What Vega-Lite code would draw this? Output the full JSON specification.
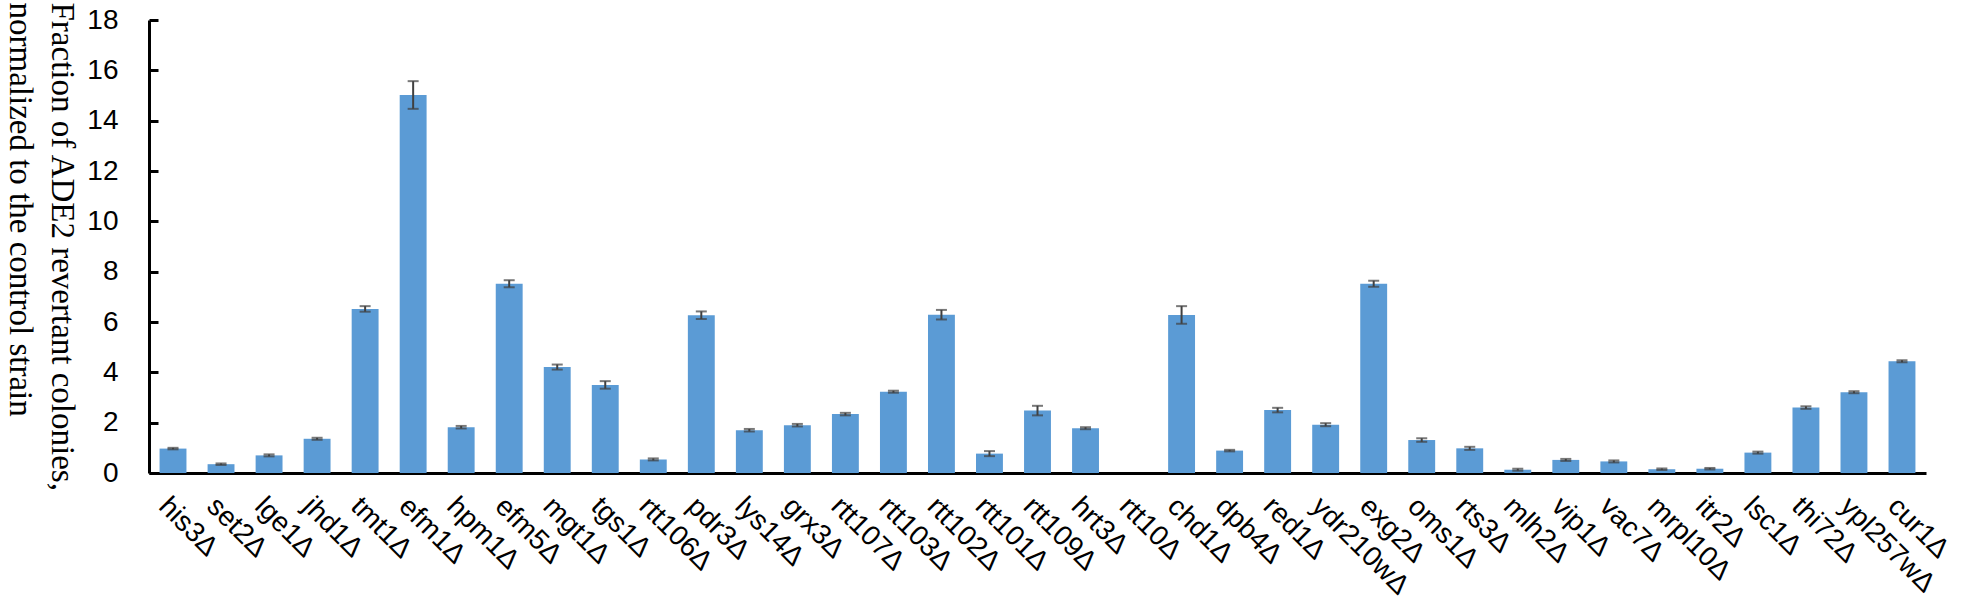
{
  "$schema": "https://vega.github.io/schema/vega-lite/v6.json",
  "autosize": {"type": "none"},
  "padding": {"left": 149, "top": 20, "right": 43, "bottom": 137},
  "width": 1777,
  "height": 453,
  "background": "white",
  "config": {"view": {"stroke": null}, "axis": {"grid": false}},
  "data": {
    "values": [
      {"gene": "his3Δ", "value": 0.97, "err": 0.03},
      {"gene": "set2Δ", "value": 0.35, "err": 0.03},
      {"gene": "lge1Δ", "value": 0.70, "err": 0.04},
      {"gene": "jhd1Δ", "value": 1.36, "err": 0.04},
      {"gene": "tmt1Δ", "value": 6.52, "err": 0.11},
      {"gene": "efm1Δ", "value": 15.02, "err": 0.55},
      {"gene": "hpm1Δ", "value": 1.82, "err": 0.05},
      {"gene": "efm5Δ", "value": 7.52, "err": 0.14},
      {"gene": "mgt1Δ", "value": 4.21, "err": 0.10},
      {"gene": "tgs1Δ", "value": 3.50, "err": 0.15},
      {"gene": "rtt106Δ", "value": 0.54, "err": 0.04},
      {"gene": "pdr3Δ", "value": 6.27, "err": 0.15},
      {"gene": "lys14Δ", "value": 1.70, "err": 0.05},
      {"gene": "grx3Δ", "value": 1.90, "err": 0.05},
      {"gene": "rtt107Δ", "value": 2.34, "err": 0.05},
      {"gene": "rtt103Δ", "value": 3.23, "err": 0.04},
      {"gene": "rtt102Δ", "value": 6.29, "err": 0.19},
      {"gene": "rtt101Δ", "value": 0.77, "err": 0.10},
      {"gene": "rtt109Δ", "value": 2.48, "err": 0.19},
      {"gene": "hrt3Δ", "value": 1.78, "err": 0.04},
      {"gene": "rtt10Δ", "value": 0, "err": 0},
      {"gene": "chd1Δ", "value": 6.28, "err": 0.35},
      {"gene": "dpb4Δ", "value": 0.89, "err": 0.03},
      {"gene": "red1Δ", "value": 2.50, "err": 0.09},
      {"gene": "ydr210wΔ", "value": 1.92, "err": 0.06},
      {"gene": "exg2Δ", "value": 7.52, "err": 0.12},
      {"gene": "oms1Δ", "value": 1.31, "err": 0.07},
      {"gene": "rts3Δ", "value": 0.98, "err": 0.06},
      {"gene": "mlh2Δ", "value": 0.13, "err": 0.04},
      {"gene": "vip1Δ", "value": 0.52, "err": 0.04},
      {"gene": "vac7Δ", "value": 0.46, "err": 0.04},
      {"gene": "mrpl10Δ", "value": 0.15, "err": 0.03},
      {"gene": "itr2Δ", "value": 0.17, "err": 0.03},
      {"gene": "lsc1Δ", "value": 0.81, "err": 0.04},
      {"gene": "thi72Δ", "value": 2.60, "err": 0.05},
      {"gene": "ypl257wΔ", "value": 3.21, "err": 0.04},
      {"gene": "cur1Δ", "value": 4.44, "err": 0.04}
    ]
  },
  "encoding": {
    "x": {
      "field": "gene",
      "type": "nominal",
      "sort": null,
      "scale": {"paddingInner": 0.44, "paddingOuter": 0.22},
      "axis": {
        "title": null,
        "labelAngle": 45,
        "labelAlign": "left",
        "labelBaseline": "top",
        "labelFont": "Liberation Sans",
        "labelFontSize": 28,
        "labelColor": "black",
        "labelPadding": 19,
        "labelOverlap": false,
        "labelLimit": 400,
        "ticks": false,
        "domainColor": "black",
        "domainWidth": 3
      }
    },
    "y": {
      "field": "value",
      "type": "quantitative",
      "scale": {"domain": [0, 18]},
      "axis": {
        "title": ["Fraction of ADE2 revertant colonies,", "normalized to the control strain"],
        "titleFont": "Liberation Serif",
        "titleFontSize": 33,
        "titleFontWeight": "normal",
        "titleColor": "black",
        "titleAngle": 90,
        "titleAlign": "left",
        "titleBaseline": "alphabetic",
        "titleX": -98,
        "titleY": -18,
        "titleLineHeight": 42,
        "values": [0, 2, 4, 6, 8, 10, 12, 14, 16, 18],
        "labelFont": "Liberation Sans",
        "labelFontSize": 28,
        "labelColor": "black",
        "labelPadding": 40,
        "tickSize": -9,
        "tickWidth": 3,
        "tickColor": "black",
        "domainColor": "black",
        "domainWidth": 3,
        "grid": false
      }
    }
  },
  "layer": [
    {
      "mark": {"type": "bar", "color": "#5B9BD5"}
    },
    {
      "transform": [{"filter": "datum.err > 0"}],
      "mark": {
        "type": "errorbar",
        "color": "#404040",
        "ticks": {"size": 11, "thickness": 2},
        "rule": {"strokeWidth": 2}
      },
      "encoding": {
        "yError": {"field": "err"}
      }
    }
  ]
}
